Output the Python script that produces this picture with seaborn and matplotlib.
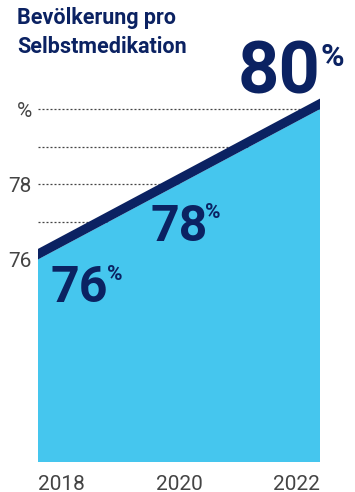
import matplotlib
matplotlib.use("Agg")
import matplotlib.pyplot as plt
import matplotlib.transforms as mtransforms
import seaborn as sns
import pandas as pd

# ---- data ----
years = [2018, 2020, 2022]
values = [76, 78, 80]
value_labels = ["76", "78", "80"]
ytick_values = [76, 77, 78, 79, 80]
ytick_labels = ["76", "", "78", "", "%"]
xtick_labels = ["2018", "2020", "2022"]
title_lines = ["Bevölkerung pro", "Selbstmedikation"]

NAVY = "#0b2262"
LIGHT = "#45c6ee"
GRAY = "#444444"

sns.set_theme(style="white")
plt.rcParams["font.family"] = ["Roboto", "DejaVu Sans"]

W, H = 355, 492
fig = plt.figure(figsize=(W / 100, H / 100), dpi=100)
fig.patch.set_facecolor("white")

left, right, bottom, top = 38, 320, 462, 90.3
ax = fig.add_axes([left / W, 1 - bottom / H, (right - left) / W, (bottom - top) / H])
ax.set_facecolor("white")

df = pd.DataFrame({"year": years, "value": values})

# area
ax.fill_between(df["year"], df["value"], 0, color=LIGHT, lw=0, zorder=2)

# navy band on top of area
offset = mtransforms.offset_copy(ax.transData, fig=fig, x=0, y=5.25, units="dots")
sns.lineplot(data=df, x="year", y="value", ax=ax, color=NAVY, linewidth=6.7,
             transform=offset, solid_capstyle="projecting", zorder=3)

ax.set_xlim(2018, 2022)
ax.set_ylim(70.61, 80.5)

# grid
ax.set_yticks(ytick_values)
ax.set_yticklabels(ytick_labels)
for yv in ytick_values:
    ax.axhline(yv, color=GRAY, lw=0.9, ls=(0, (1.6, 1.6)), zorder=1)

ax.set_xticks(years)
ax.set_xticklabels(xtick_labels)
xl = ax.get_xticklabels()
xl[0].set_ha("left")
xl[-1].set_ha("right")

ax.tick_params(axis="both", length=0, labelsize=15, labelcolor=GRAY)
ax.tick_params(axis="y", pad=4.5)
ax.tick_params(axis="x", pad=9.5)
for t in ax.get_xticklabels() + ax.get_yticklabels():
    t.set_fontweight("normal")

for s in ax.spines.values():
    s.set_visible(False)
ax.set_xlabel("")
ax.set_ylabel("")


def fx(px):
    return px / W


def fy(py):
    return 1 - py / H


# title
fig.text(fx(17), fy(24), title_lines[0], fontsize=15.5, fontweight="bold", color=NAVY, va="baseline")
fig.text(fx(17), fy(53), title_lines[1], fontsize=15.5, fontweight="bold", color=NAVY, va="baseline")

# value labels: (digit x, digit baseline, size, pct x, pct baseline, pct size)
label_pos = [
    (51, 302, 36, 107, 280, 15),
    (151, 241, 36, 205, 218, 15),
    (238, 94, 52, 320, 66, 23),
]
for lab, (x, yb, s, px, pyb, ps) in zip(value_labels, label_pos):
    fig.text(fx(x), fy(yb), lab, fontsize=s, fontweight="bold", color=NAVY, va="baseline", ha="left")
    fig.text(fx(px), fy(pyb), "%", fontsize=ps, fontweight="bold", color=NAVY, va="baseline", ha="left")

fig.savefig("out.png", dpi=100, facecolor="white")
